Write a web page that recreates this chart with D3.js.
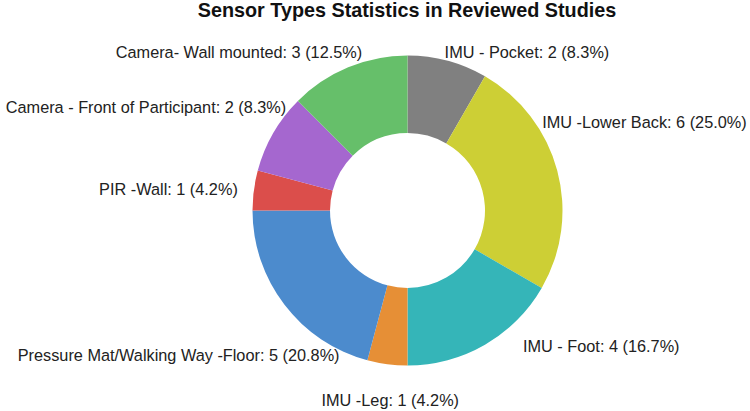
<!DOCTYPE html>
<html>
<head>
<meta charset="utf-8">
<script src="https://cdn.jsdelivr.net/npm/d3@7"></script>
<style>
  body { margin: 0; background: #fff; }
  svg { display: block; font-family: "Liberation Sans", Arial, sans-serif; }
</style>
</head>
<body>
<figure id="donut" style="margin:0"></figure>
<script>
// data, clockwise from 12 o'clock
const categories = [
  'IMU - Pocket',
  'IMU -Lower Back',
  'IMU - Foot',
  'IMU -Leg',
  'Pressure Mat/Walking Way -Floor',
  'PIR -Wall',
  'Camera - Front of Participant',
  'Camera- Wall mounted'
];
const counts = [2, 6, 4, 1, 5, 1, 2, 3];
const colors = ['#808080', '#cdcf35', '#35b5b8', '#e68f36', '#4c8bcd', '#db4e4b', '#a567cf', '#66bf6a'];

// label placement: anchor and nudge from the slice's outer mid point
const labelLayout = [
  ['start', -3, -3],
  ['start', -15, -42],
  ['start', 38, 7],
  ['middle', 3, 42],
  ['end', 55, 56],
  ['end', -16, 5],
  ['end', 13, -20],
  ['end', 14, -9]
];

const width = 750;
const height = 411;
const cx = 407.5;
const cy = 210.5;
const outerR = 155;
const innerR = 77.5;

const total = d3.sum(counts);
const data = categories.map((name, i) => ({name, value: counts[i], color: colors[i], layout: labelLayout[i]}));

const svg = d3.select('figure#donut')
    .append('svg')
    .attr('width', width)
    .attr('height', height);

svg.append('text')
    .attr('x', 407)
    .attr('y', 17)
    .attr('text-anchor', 'middle')
    .style('font-size', '19.8px')
    .style('font-weight', 'bold')
    .attr('fill', '#111')
    .text('Sensor Types Statistics in Reviewed Studies');

const pie = d3.pie().sort(null).value(d => d.value);
const arc = d3.arc().innerRadius(innerR).outerRadius(outerR);

const g = svg.append('g')
    .attr('transform', 'translate(' + cx + ',' + cy + ')');

const arcs = pie(data);

g.selectAll('path')
    .data(arcs)
    .enter()
    .append('path')
    .attr('d', arc)
    .attr('fill', d => d.data.color);

// labels sit just outside the rim, like the original
g.selectAll('text.lbl')
    .data(arcs)
    .enter()
    .append('text')
    .attr('class', 'lbl')
    .attr('x', d => {
      const a = (d.startAngle + d.endAngle) / 2;
      return outerR * Math.sin(a) + d.data.layout[1];
    })
    .attr('y', d => {
      const a = (d.startAngle + d.endAngle) / 2;
      return -outerR * Math.cos(a) + d.data.layout[2];
    })
    .attr('text-anchor', d => d.data.layout[0])
    .style('font-size', '16.3px')
    .attr('fill', '#222')
    .text(d => d.data.name + ': ' + d.data.value + ' (' + (d.data.value / total * 100).toFixed(1) + '%)');
</script>
</body>
</html>
